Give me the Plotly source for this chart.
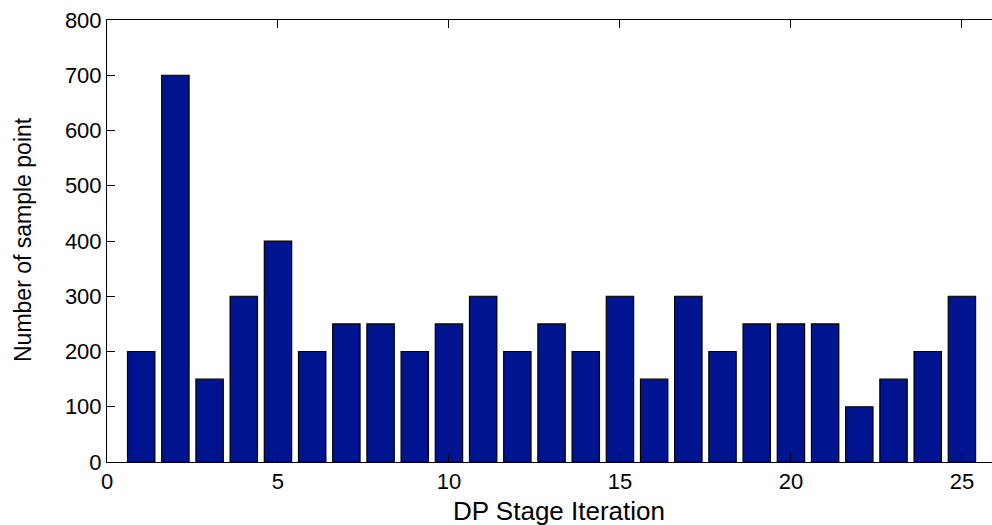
import plotly.graph_objects as go

# Sample points used at each DP stage iteration
iterations = list(range(1, 26))
sample_points = [200, 700, 150, 300, 400, 200, 250, 250, 200, 250,
                 300, 200, 250, 200, 300, 150, 300, 200, 250, 250,
                 250, 100, 150, 200, 300]

x_ticks = [0, 5, 10, 15, 20, 25]
y_ticks = [0, 100, 200, 300, 400, 500, 600, 700, 800]

W, H = 992, 525
ML, MR, MT, MB = 107, 0, 20, 63
PW, PH = W - ML - MR, H - MT - MB

fig = go.Figure(
    go.Bar(
        x=iterations,
        y=sample_points,
        width=0.8,
        marker=dict(color="#001490", line=dict(color="black", width=1.2)),
    )
)

font = dict(family="Liberation Sans, Arial, sans-serif", color="black")

fig.update_layout(
    width=W,
    height=H,
    margin=dict(l=ML, r=MR, t=MT, b=MB),
    plot_bgcolor="white",
    paper_bgcolor="white",
    showlegend=False,
    font=font,
    xaxis=dict(
        range=[0, 25.88],
        tickvals=x_ticks,
        ticks="inside",
        ticklen=8,
        tickcolor="black",
        showline=True,
        linecolor="black",
        linewidth=1,
        mirror="ticks",
        showgrid=False,
        zeroline=False,
        tickfont=dict(size=22, **font),
    ),
    yaxis=dict(
        range=[0, 800],
        tickvals=y_ticks,
        ticks="inside",
        ticklen=8,
        tickcolor="black",
        showline=True,
        linecolor="black",
        linewidth=1,
        showgrid=False,
        zeroline=False,
        tickfont=dict(size=22, **font),
    ),
    annotations=[
        dict(
            text="DP Stage Iteration",
            xref="paper", yref="paper",
            x=(559 - ML) / PW, y=(MT + PH - 511) / PH,
            xanchor="center", yanchor="middle",
            showarrow=False,
            font=dict(size=26, **font),
        ),
        dict(
            text="Number of sample point",
            xref="paper", yref="paper",
            x=(23 - ML) / PW, y=(MT + PH - 240) / PH,
            xanchor="center", yanchor="middle",
            textangle=-90,
            showarrow=False,
            font=dict(size=23, **font),
        ),
    ],
)

fig.write_html("out.html")
